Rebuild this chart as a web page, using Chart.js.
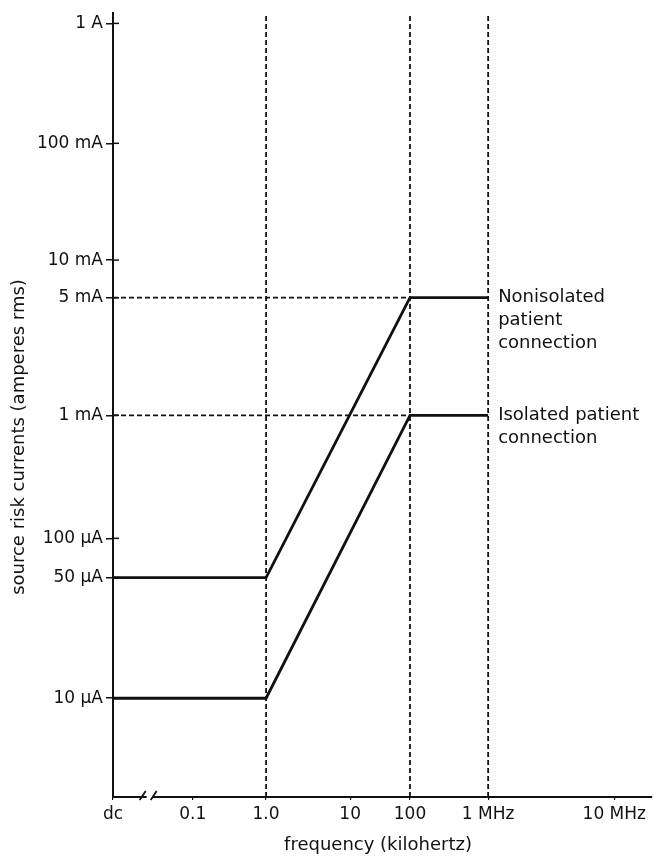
<!DOCTYPE html>
<html><head><meta charset="utf-8">
<script src="https://cdn.jsdelivr.net/npm/chart.js@4/dist/chart.umd.min.js"></script>
<style>html,body{margin:0;padding:0;background:#fff;}canvas{display:block;}</style>
</head><body>
<canvas id="c" width="654" height="859"></canvas>
<script>
// ---- data ----
const freqKHz = [0, 1, 100, 1000];              // 0 = dc
const nonisolatedA = [50e-6, 50e-6, 5e-3, 5e-3];
const isolatedA = [10e-6, 10e-6, 1e-3, 1e-3];
const xTickValues = [0, 0.1, 1, 10, 100, 1000, 10000];
const xTickLabels = ['dc', '0.1', '1.0', '10', '100', '1 MHz', '10 MHz'];
const yTickValues = [1e-5, 5e-5, 1e-4, 1e-3, 5e-3, 1e-2, 1e-1, 1];
const yTickLabels = ['10 \u03bcA', '50 \u03bcA', '100 \u03bcA', '1 mA', '5 mA', '10 mA', '100 mA', '1 A'];
const guideFreqKHz = [1, 100, 1000];
const guideCurrentA = [5e-3, 1e-3];
const seriesNames = [['Nonisolated', 'patient', 'connection'], ['Isolated patient', 'connection']];
const seriesLabelAt = [5e-3, 1e-3];

// ---- axis geometry (hand-drawn, non-uniform spacing) ----
const X_MIN = 0, X_MAX = 20000, Y_MIN = 1.6e-6, Y_MAX = 1.2;
const KNOTS = {
  x: [[0, 0], [0.1, 0.148], [1, 0.284], [10, 0.44], [100, 0.551], [1000, 0.696], [10000, 0.93], [20000, 1]],
  y: [[1.6e-6, 0], [1e-5, 0.126], [5e-5, 0.280], [1e-4, 0.330], [1e-3, 0.487], [5e-3, 0.637], [1e-2, 0.685], [1e-1, 0.834], [1, 0.987], [1.2, 1]]
};

class PiecewiseScale extends Chart.LinearScale {
  static id = 'piecewise';
  static defaults = {};
  _frac(v) {
    const k = KNOTS[this.axis];
    let i = 0;
    while (i < k.length - 2 && v > k[i + 1][0]) i++;
    const [v0, f0] = k[i], [v1, f1] = k[i + 1];
    let t;
    if (v0 <= 0 || v <= 0) t = (v - v0) / (v1 - v0);
    else t = (Math.log10(v) - Math.log10(v0)) / (Math.log10(v1) - Math.log10(v0));
    return f0 + t * (f1 - f0);
  }
  getPixelForValue(value) {
    if (value === null || value === undefined || isNaN(value)) return NaN;
    return this.getPixelForDecimal(this._frac(value));
  }
  getValueForPixel(pixel) {
    const f = this.getDecimalForPixel(pixel);
    const k = KNOTS[this.axis];
    let i = 0;
    while (i < k.length - 2 && f > k[i + 1][1]) i++;
    const [v0, f0] = k[i], [v1, f1] = k[i + 1];
    const t = (f - f0) / (f1 - f0);
    if (v0 <= 0) return v0 + t * (v1 - v0);
    return Math.pow(10, Math.log10(v0) + t * (Math.log10(v1) - Math.log10(v0)));
  }
}
Chart.register(PiecewiseScale);

const INK = '#111';
const FONT = 'DejaVu Sans';

const lineDs = (pts, w, dash) => ({
  data: pts, borderColor: INK, borderWidth: w, borderDash: dash || [],
  pointRadius: 0, tension: 0, fill: false, borderCapStyle: 'butt'
});

const datasets = [
  lineDs(freqKHz.map((f, i) => ({x: f, y: nonisolatedA[i]})), 2.8),
  lineDs(freqKHz.map((f, i) => ({x: f, y: isolatedA[i]})), 2.8),
  ...guideFreqKHz.map(f => lineDs([{x: f, y: Y_MIN}, {x: f, y: Y_MAX}], 1.8, [5, 3])),
  ...guideCurrentA.map(a => lineDs([{x: 0, y: a}, {x: 100, y: a}], 1.8, [5, 3]))
];

const extras = {
  id: 'extras',
  afterDraw(chart) {
    const ctx = chart.ctx, xs = chart.scales.x, ys = chart.scales.y, a = chart.chartArea;
    ctx.save();
    ctx.strokeStyle = INK; ctx.fillStyle = INK;
    // inner halves of the "+" ticks on the y axis
    ctx.lineWidth = 1.5;
    yTickValues.forEach(v => {
      const y = ys.getPixelForValue(v);
      ctx.beginPath(); ctx.moveTo(a.left, y); ctx.lineTo(a.left + 6, y); ctx.stroke();
    });
    // axis break between dc and 0.1
    const x0 = xs.getPixelForValue(0), x1 = xs.getPixelForValue(0.1);
    const bx = x0 + 0.46 * (x1 - x0), by = a.bottom;
    ctx.fillStyle = '#fff';
    ctx.fillRect(bx - 3, by - 3, 6, 6);
    ctx.lineWidth = 1.8;
    ctx.beginPath();
    ctx.moveTo(bx - 10, by + 3); ctx.lineTo(bx - 4, by - 6);
    ctx.moveTo(bx + 1, by + 3); ctx.lineTo(bx + 7, by - 6);
    ctx.stroke();
    // series labels
    ctx.fillStyle = INK;
    ctx.font = '18px "' + FONT + '"';
    ctx.textAlign = 'left'; ctx.textBaseline = 'middle';
    const lx = xs.getPixelForValue(1000) + 10;
    seriesNames.forEach((lines, i) => {
      const y0 = ys.getPixelForValue(seriesLabelAt[i]);
      lines.forEach((t, j) => ctx.fillText(t, lx, y0 + j * 23));
    });
    // axis titles
    ctx.textAlign = 'center';
    ctx.fillText('frequency (kilohertz)', 378, 845);
    ctx.translate(19, 437);
    ctx.rotate(-Math.PI / 2);
    ctx.fillText('source risk currents (amperes rms)', 0, 0);
    ctx.restore();
  }
};

new Chart(document.getElementById('c'), {
  type: 'line',
  data: {datasets},
  plugins: [extras],
  options: {
    responsive: false, animation: false, devicePixelRatio: 1,
    layout: {padding: {top: 12, right: 2, left: 0, bottom: 0}},
    plugins: {legend: {display: false}, tooltip: {enabled: false}},
    scales: {
      x: {
        type: 'piecewise', min: X_MIN, max: X_MAX,
        afterBuildTicks: s => { s.ticks = xTickValues.map(v => ({value: v})); },
        afterFit: s => { s.height = 62; },
        ticks: {autoSkip: false, maxRotation: 0, padding: 4, color: INK,
                font: {family: FONT, size: 17}, callback: (v, i) => xTickLabels[i]},
        grid: {drawOnChartArea: false, drawTicks: true, tickLength: 3, color: INK, lineWidth: 1.2},
        border: {display: true, color: INK, width: 2}
      },
      y: {
        type: 'piecewise', min: Y_MIN, max: Y_MAX,
        afterBuildTicks: s => { s.ticks = yTickValues.map(v => ({value: v})); },
        afterFit: s => { s.width = 113; },
        ticks: {autoSkip: false, padding: 3, color: INK,
                font: {family: FONT, size: 17}, callback: (v, i) => yTickLabels[i]},
        grid: {drawOnChartArea: false, drawTicks: true, tickLength: 7, color: INK, lineWidth: 1.5},
        border: {display: true, color: INK, width: 2}
      }
    }
  }
});
</script>
</body></html>
